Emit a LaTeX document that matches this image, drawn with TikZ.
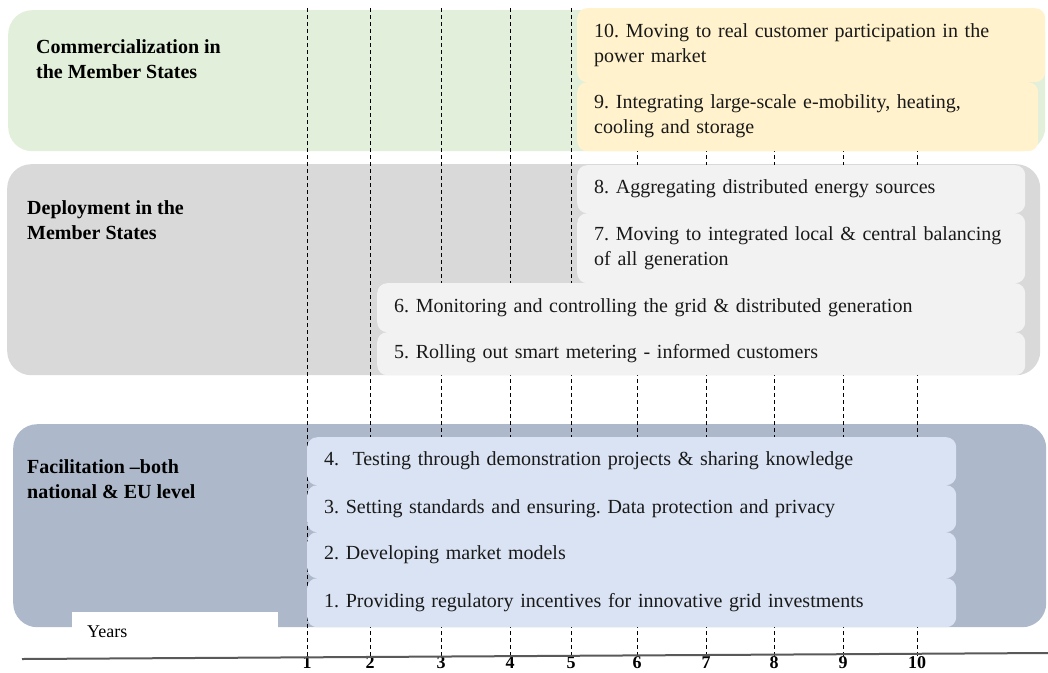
\documentclass[tikz,border=0pt]{standalone}
\usepackage{fontspec}
\setmainfont{Liberation Serif}
\usepackage{xcolor}
\definecolor{commgreen}{HTML}{E2EFDA}
\definecolor{commyellow}{HTML}{FFF2CC}
\definecolor{depgray}{HTML}{D9D9D9}
\definecolor{depbox}{HTML}{F2F2F2}
\definecolor{facblue}{HTML}{ADB9CA}
\definecolor{facbox}{HTML}{DAE3F3}
\frenchspacing

\begin{document}
\begin{tikzpicture}[x=1pt,y=-1pt,
  band/.style={rectangle,anchor=north west,inner sep=0pt,rounded corners=24pt},
  gr/.style={band,fill=commgreen},
  gy/.style={band,fill=depgray},
  bl/.style={band,fill=facblue},
  st/.style={rectangle,anchor=north west,inner xsep=17pt,inner ysep=0pt,rounded corners=10pt,
    align=left,text=black!90,font=\fontsize{20}{25}\selectfont},
  ye/.style={st,fill=commyellow},
  lg/.style={st,fill=depbox},
  lb/.style={st,fill=facbox},
  lbl/.style={anchor=west,inner sep=0pt,align=left,font=\fontsize{20}{25}\selectfont\bfseries},
  num/.style={inner sep=1pt,font=\fontsize{18}{20}\selectfont\bfseries},
  dl/.style={black,line width=0.7pt,dash pattern=on 4pt off 3pt},
  ]
  \useasboundingbox (0,0) rectangle (1048,672);

  \node at (8,10) [gr,minimum width=1037pt,minimum height=141pt] (comm) {};
  \node at (7,164) [gy,minimum width=1033pt,minimum height=211pt] (depl) {};
  \node at (13,424) [bl,minimum width=1033pt,minimum height=203pt] (faci) {};

  \coordinate (top) at (0,8);
  \node at (307,663) [num] (y1) {1};
  \node at (370,663) [num] (y2) {2};
  \node at (441,663) [num] (y3) {3};
  \node at (510,663) [num] (y4) {4};
  \node at (571,663) [num] (y5) {5};
  \node at (637,663) [num] (y6) {6};
  \node at (706,663) [num] (y7) {7};
  \node at (774,663) [num] (y8) {8};
  \node at (843,663) [num] (y9) {9};
  \node at (917,663) [num] (y10) {10};
  \draw (y1.north |- top) edge [dl] (y1.north);
  \draw (y2.north |- top) edge [dl] (y2.north);
  \draw (y3.north |- top) edge [dl] (y3.north);
  \draw (y4.north |- top) edge [dl] (y4.north);
  \draw (y5.north |- top) edge [dl] (y5.north);
  \draw (y6.north |- top) edge [dl] (y6.north);
  \draw (y7.north |- top) edge [dl] (y7.north);
  \draw (y8.north |- top) edge [dl] (y8.north);
  \draw (y9.north |- top) edge [dl] (y9.north);
  \draw (y10.north |- top) edge [dl] (y10.north);

  \node at (577,8) [ye,text width=434pt,minimum height=74pt] (s10) {10. Moving to real customer participation in the\\power market};
  \node at (577,82) [ye,text width=427pt,minimum height=69pt] (s9) {9. Integrating large-scale e-mobility, heating,\\cooling and storage};

  \node at (577,165) [lg,text width=414pt,minimum height=48pt] (s8) {8. Aggregating distributed energy sources};
  \node at (577,213) [lg,text width=414pt,minimum height=70pt] (s7) {7. Moving to integrated local \& central balancing\\of all generation};
  \node at (377,283) [lg,text width=614pt,minimum height=49pt] (s6) {6. Monitoring and controlling the grid \& distributed generation};
  \node at (377,332) [lg,text width=614pt,minimum height=43pt] (s5) {5. Rolling out smart metering - informed customers};

  \node at (307,437) [lb,text width=615pt,minimum height=48pt] (s4) {4.\ \ Testing through demonstration projects \& sharing knowledge};
  \node at (307,485) [lb,text width=615pt,minimum height=47pt] (s3) {3. Setting standards and ensuring. Data protection and privacy};
  \node at (307,532) [lb,text width=615pt,minimum height=46pt] (s2) {2. Developing market models};
  \node at (307,578) [lb,text width=615pt,minimum height=49pt] (s1) {1. Providing regulatory incentives for innovative grid investments};

  \node at (36,59.5) [lbl] (lcomm) {Commercialization in\\the Member States};
  \node at (27,220.5) [lbl] (ldepl) {Deployment in the\\Member States};
  \node at (27,479.5) [lbl] (lfaci) {Facilitation --both\\national \& EU level};

  \node at (72,612) [anchor=north west,fill=white,minimum height=38pt,text width=176pt,inner xsep=15pt,
    inner ysep=0pt,align=left,font=\fontsize{18}{20}\selectfont] (years) {Years};

  \coordinate (axl) at (22,659);
  \coordinate (axr) at (1048,653);
  \draw[line width=2pt,black!65] (axl) -- (axr);
\end{tikzpicture}
\end{document}
